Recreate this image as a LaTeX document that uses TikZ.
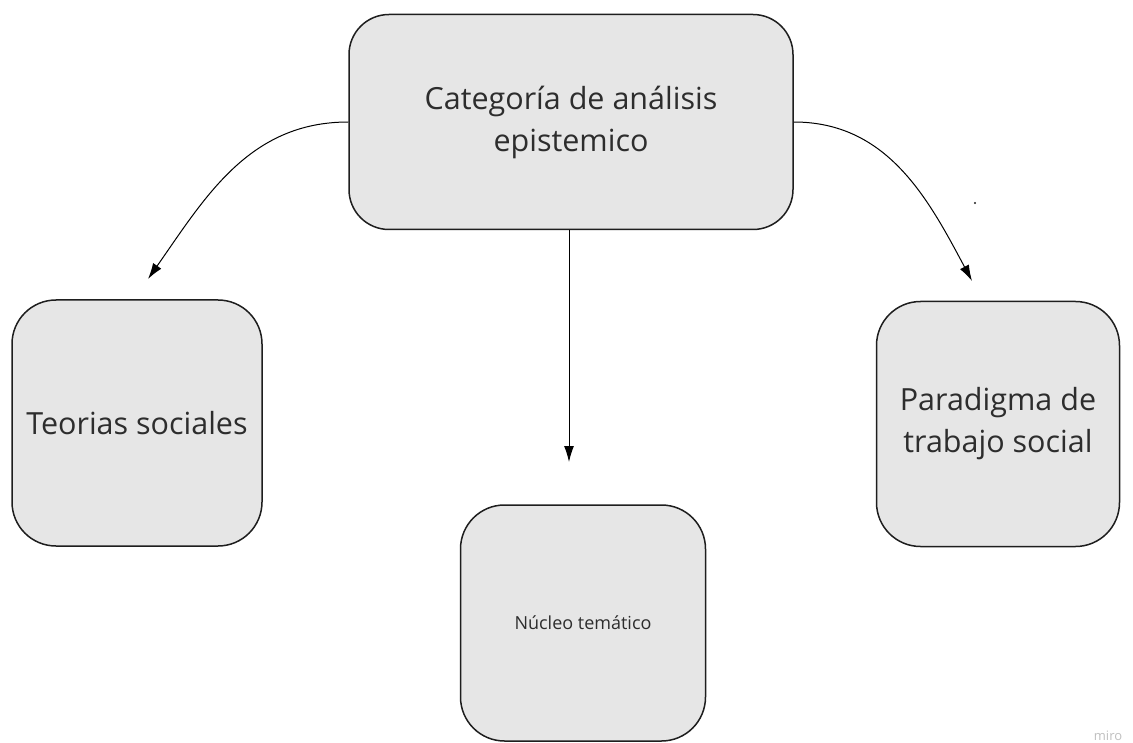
\documentclass[tikz,border=0pt]{standalone}
\usepackage{fontspec}
\setmainfont{Open Sans}
\usetikzlibrary{arrows.meta}
\definecolor{boxfill}{RGB}{230,230,230}
\definecolor{boxline}{RGB}{30,30,30}
\definecolor{boxtext}{RGB}{45,45,45}

\tikzset{
    catbox/.style={draw=boxline, line width=1.5pt, fill=boxfill, rounded corners=44pt,
        inner sep=0pt, align=center, text=boxtext, font=\fontsize{30.5}{42}\selectfont},
    link/.style={line width=1pt, -{Latex[length=16pt,width=10pt]}}
}

\begin{document}
\begin{tikzpicture}[x=1pt,y=-1pt]
        \useasboundingbox (0,0) rectangle (1133,743);
        \node[catbox, rounded corners=40pt, minimum width=444pt, minimum height=215pt] (cat) at (571,122)
            {Categoría de análisis\\epistemico};
        \node[catbox, minimum width=250pt, minimum height=246pt] (teo) at (137,423) {Teorias sociales};
        \node[catbox, minimum width=245pt, minimum height=236pt,
            font=\fontsize{18}{24}\selectfont] (nuc) at (583,623) {Núcleo temático};
        \node[catbox, minimum width=243pt, minimum height=245pt] (par) at (998,424)
            {Paradigma de\\trabajo social};
        \coordinate (teoend) at (148,279);
        \coordinate (nucend) at (569,462);
        \coordinate (parend) at (972,281);
        \draw[link] (cat.west) to[out=180, in=55] (teoend);
        \draw[link] (cat.south -| nucend) -- (nucend);
        \draw[link] (cat.east) to[out=0, in=118] (parend);
        \fill[boxline] (975,203) circle (1.2pt);
        \node[text=black!25, font=\fontsize{13}{15}\selectfont, anchor=base] (miro) at (1108,740) {miro};
    \end{tikzpicture}
\end{document}
